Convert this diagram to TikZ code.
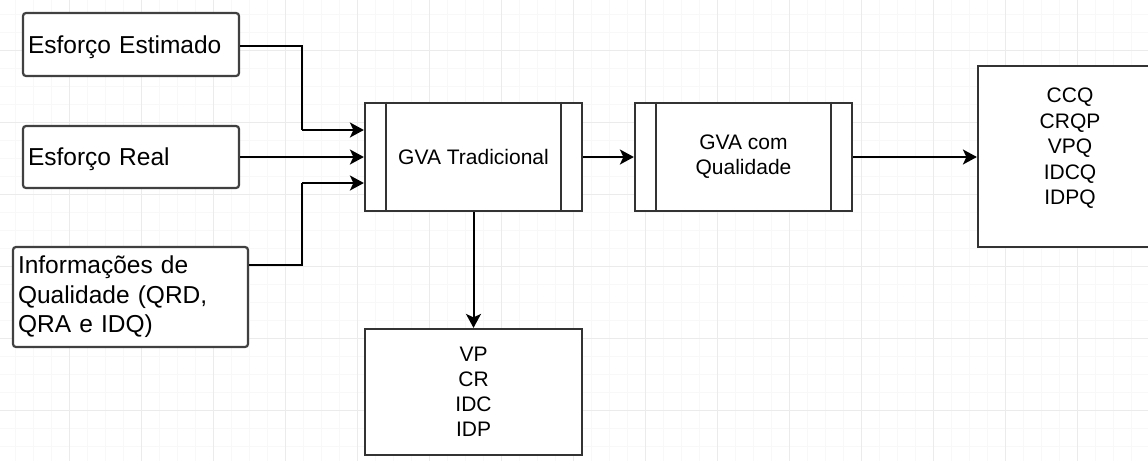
\documentclass[tikz,border=0pt]{standalone}
\usepackage{fontspec}
\setmainfont{Liberation Sans}
\usetikzlibrary{arrows.meta,calc}
\definecolor{gridminor}{HTML}{F8F8F8}
\definecolor{gridmajor}{HTML}{EBEBEB}
\tikzset{
  inbox/.style={draw=black!75, line width=2.2pt, rounded corners=3pt, fill=white,
    inner xsep=5pt, inner ysep=0pt, align=left, font=\fontsize{24.5}{29.5}\selectfont},
  procbox/.style={draw=black!80, line width=2.2pt, fill=white, minimum width=217pt,
    minimum height=108pt, inner sep=0pt, align=center, font=\fontsize{21}{25}\selectfont},
  outbox/.style={draw=black!80, line width=2.2pt, fill=white, inner sep=0pt},
  outtext/.style={align=center, inner sep=0pt, font=\fontsize{21}{25.4}\selectfont},
  edge/.style={draw=black, line width=2pt, -{Stealth[length=14pt,width=15pt,inset=3.5pt]}},
  plainedge/.style={draw=black, line width=2pt},
  bar/.style={draw=black!80, line width=2.2pt}
}
\begin{document}
\begin{tikzpicture}[x=1pt,y=-1pt]
\useasboundingbox (0,0) rectangle (1148,461);
\fill[white] (0,0) rectangle (1148,461);
% grid
\foreach \gx in {-3,15,...,1160} {\draw[gridminor, line width=1pt] (\gx,0) -- (\gx,461);}
\foreach \gy in {-4,14,...,470} {\draw[gridminor, line width=1pt] (0,\gy) -- (1148,\gy);}
\foreach \gx in {-3,69,...,1160} {\draw[gridmajor, line width=1pt] (\gx,0) -- (\gx,461);}
\foreach \gy in {-22,50,...,470} {\draw[gridmajor, line width=1pt] (0,\gy) -- (1148,\gy);}

% input boxes
\node[inbox, minimum width=216pt, minimum height=63pt, text width=206pt, text depth=0pt] (est) at (131,44.5) {Esforço Estimado};
\node[inbox, minimum width=216pt, minimum height=62pt, text width=206pt, text depth=0pt] (real) at (131,157) {Esforço Real};
\node[inbox, minimum width=235pt, minimum height=100pt, text width=225pt] (info) at (130.5,297) {Informações de\\Qualidade (QRD,\\QRA e IDQ)};

% process boxes
\node[procbox] (gt) at (473.5,157) {GVA Tradicional};
\draw[bar] ([xshift=22pt]gt.north west) -- ([xshift=22pt]gt.south west);
\draw[bar] ([xshift=-22pt]gt.north east) -- ([xshift=-22pt]gt.south east);
\node[procbox] (gq) at (743.5,157) {GVA com\\Qualidade};
\draw[bar] ([xshift=22pt]gq.north west) -- ([xshift=22pt]gq.south west);
\draw[bar] ([xshift=-22pt]gq.north east) -- ([xshift=-22pt]gq.south east);

% output boxes
\node[outbox, minimum width=188pt, minimum height=181pt] (out) at (1072,156.5) {};
\node[outtext, anchor=north] (outtxt) at (1070,88) {CCQ\\CRQP\\VPQ\\IDCQ\\IDPQ};
\node[outbox, minimum width=217pt, minimum height=126pt, align=center,
  font=\fontsize{21}{25}\selectfont] (vp) at (473.5,392) {VP\\CR\\IDC\\IDP};

% connectors
\coordinate (j1) at (302,130);
\coordinate (j3) at (302,183);
\draw[plainedge] (est.east |- 0,46) -| (j1);
\draw[edge] (j1) -- (gt.west |- j1);
\draw[edge] (real.east) -- (real.east -| gt.west);
\draw[plainedge] (info.east |- 0,265) -| (j3);
\draw[edge] (j3) -- (gt.west |- j3);
\draw[edge] (gt.east) -- (gq.west);
\draw[edge] (gq.east) -- (out.west |- gq.east);
\draw[edge] (gt.south) -- (vp.north);
\end{tikzpicture}
\end{document}
